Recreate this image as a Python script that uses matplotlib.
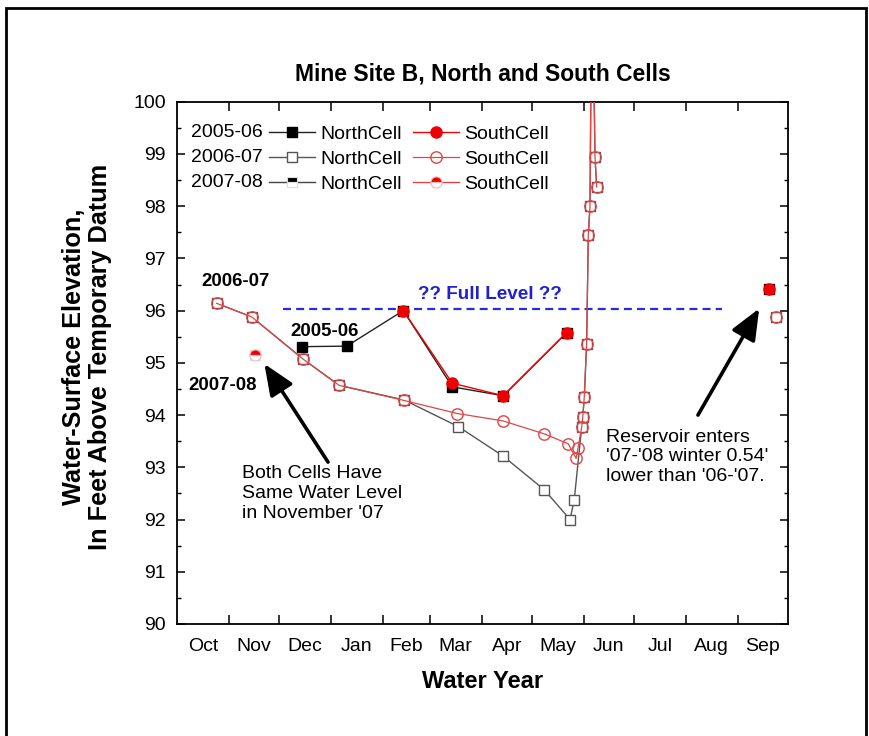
import numpy as np
import matplotlib
matplotlib.use('Agg')
import matplotlib.pyplot as plt
from matplotlib.patches import Rectangle
from matplotlib.ticker import MultipleLocator

plt.rcParams['font.family'] = ['Liberation Sans', 'DejaVu Sans']

nan = np.nan

# ---- data (x = day of water year, starting Oct 1) ----
month_labels = ['Oct', 'Nov', 'Dec', 'Jan', 'Feb', 'Mar', 'Apr', 'May',
                'Jun', 'Jul', 'Aug', 'Sep']
month_lengths = [31, 30, 31, 31, 28, 31, 30, 31, 30, 31, 31, 30]

n05_day = [74.9, 101.4, 135.2, 164.5, 194.9, 232.8, nan, 353.8]
n05_val = [95.31, 95.32, 96.00, 94.54, 94.37, 95.58, nan, 96.41]
s05_day = [135.2, 164.5, 194.9, 232.8, nan, 353.8]
s05_val = [96.00, 94.61, 94.37, 95.58, nan, 96.41]

n06_day = [23.7, 44.6, 75.4, 96.8, 135.6, 168.0, 194.6, 219.4, 234.8, 237.3,
           241.8, 242.4, 243.3, 244.7, 245.7, 246.7, 247.9, 249.7, 250.7, nan, 357.8]
n06_val = [96.14, 95.88, 95.07, 94.57, 94.29, 93.78, 93.22, 92.57, 92.00, 92.38,
           93.78, 93.97, 94.35, 95.37, 97.45, 98.00, 103.0, 98.94, 98.37, nan, 95.88]
s06_day = [23.7, 44.6, 75.4, 96.8, 135.6, 167.4, 194.6, 219.4, 233.7, 238.4, 239.5,
           241.8, 242.4, 243.3, 244.7, 245.7, 246.7, 247.9, 249.7, 250.7, nan, 357.8]
s06_val = [96.14, 95.88, 95.07, 94.57, 94.28, 94.03, 93.89, 93.64, 93.45, 93.17, 93.36,
           93.78, 93.97, 94.35, 95.37, 97.45, 98.00, 103.0, 98.94, 98.37, nan, 95.88]

n07_day = [46.6]
n07_val = [95.15]
s07_day = [46.6]
s07_val = [95.15]

full_level = 96.03
full_level_days = [63.3, 325.6]

years = ['2005-06', '2006-07', '2007-08']

# ---- figure ----
fig = plt.figure(figsize=(8.69, 7.36), dpi=100)
ax = fig.add_axes([0.2037, 0.1522, 0.7031, 0.7096])

dark = '#555555'
red = '#ee0000'
red2 = '#e04545'

hn05, = ax.plot(n05_day, n05_val, '-', color='#222222', lw=1.0, marker='s',
                ms=7, mfc='black', mec='black', zorder=3)
hn06, = ax.plot(n06_day, n06_val, '-', color=dark, lw=1.0, marker='s',
                ms=7.2, mfc='white', mec=dark, mew=1.0, zorder=3)
hn07, = ax.plot(n07_day, n07_val, '-', color='#444444', lw=1.0, marker='s',
                ms=7.2, mfc='black', mfcalt='white', fillstyle='top',
                mec='#dddddd', mew=0.8, zorder=3)
hs05, = ax.plot(s05_day, s05_val, '-', color=red, lw=1.0, marker='o',
                ms=8, mfc=red, mec=red, zorder=4)
hs06, = ax.plot(s06_day, s06_val, '-', color=red2, lw=0.9, marker='o',
                ms=8.2, mfc='none', mec=red2, mew=1.0, zorder=4)
hs07, = ax.plot(s07_day, s07_val, '-', color=red2, lw=1.0, marker='o',
                ms=8, mfc=red, mfcalt='white', fillstyle='top',
                mec='#f2b8b8', mew=0.8, zorder=4)

ax.plot(full_level_days, [full_level, full_level], color='#2b2bdd', lw=1.6,
        ls=(0, (3.6, 2.3)), zorder=2)

# axes limits / ticks
bounds = np.concatenate([[0], np.cumsum(month_lengths)])
centers = (bounds[:-1] + bounds[1:]) / 2
ax.set_xlim(0, 365)
ax.set_ylim(90, 100)
ax.set_xticks(bounds[1:-1])
ax.set_xticklabels([])
ax.set_xticks(centers, minor=True)
ax.set_xticklabels(month_labels, minor=True)
ax.tick_params(axis='x', which='major', direction='in', length=6.5, width=1.1,
               top=True, bottom=True)
ax.tick_params(axis='x', which='minor', length=0, pad=10, labelsize=14)
ax.set_yticks(np.arange(90, 101, 1))
ax.yaxis.set_minor_locator(MultipleLocator(0.5))
ax.tick_params(axis='y', which='major', direction='in', length=6, width=1.1,
               left=True, right=True, labelsize=14, pad=8)
ax.tick_params(axis='y', which='minor', direction='in', length=3, width=1.0,
               left=True, right=True)
for s in ax.spines.values():
    s.set_linewidth(1.3)

ax.set_title('Mine Site B, North and South Cells', fontsize=16.5,
             fontweight='bold', pad=15)
ax.set_xlabel('Water Year', fontsize=17, fontweight='bold', labelpad=11)
ax.set_ylabel('Water-Surface Elevation,\nIn Feet Above Temporary Datum',
              fontsize=18.2, fontweight='bold', linespacing=1.1)
ax.yaxis.set_label_coords(-0.106, 0.512)

# legend
leg = ax.legend(handles=[hn05, hn06, hn07, hs05, hs06, hs07],
                labels=['NorthCell'] * 3 + ['SouthCell'] * 3,
                ncol=2, loc='upper left', bbox_to_anchor=(0.1506, 0.955),
                frameon=False, borderpad=0, borderaxespad=0,
                handlelength=2.37, handletextpad=0.26, columnspacing=0.6,
                labelspacing=0.38, fontsize=14, numpoints=1)
row_y = [0.942, 0.894, 0.846]
for yr, yy in zip(years, row_y):
    ax.text(0.1408, yy, yr, transform=ax.transAxes, ha='right', va='center',
            fontsize=14)

# annotations
ax.text(14.5, 96.55, '2006-07', fontsize=13.4, fontweight='bold',
        ha='left', va='center')
ax.text(67.5, 95.6, '2005-06', fontsize=13.4, fontweight='bold',
        ha='left', va='center')
ax.text(6.5, 94.56, '2007-08', fontsize=13.4, fontweight='bold',
        ha='left', va='center')
ax.text(143.9, 96.3, '?? Full Level ??', fontsize=13.6, fontweight='bold',
        color='#2020cc', ha='left', va='center')
ax.text(38.6, 92.5, "Both Cells Have\nSame Water Level\nin November '07",
        fontsize=14, ha='left', va='center', linespacing=1.2)
ax.text(256.5, 93.2, "Reservoir enters\n'07-'08 winter 0.54'\nlower than '06-'07.",
        fontsize=14, ha='left', va='center', linespacing=1.2)

arrow_kw = dict(arrowstyle='-|>,head_length=0.95,head_width=0.4', lw=2.6,
                color='black', mutation_scale=20, shrinkA=0, shrinkB=0)
ax.annotate('', xy=(52.2, 94.98), xytext=(90.2, 93.10), arrowprops=arrow_kw)
ax.annotate('', xy=(347.8, 96.04), xytext=(311.2, 94.0), arrowprops=arrow_kw)

# outer frame (open at the bottom)
fig.patches.append(Rectangle((5.5 / 869, -0.05), (866 - 5.5) / 869,
                             1 - 8 / 736 + 0.05, transform=fig.transFigure,
                             fill=False, lw=2.0, ec='black'))

fig.savefig('out.png', dpi=100)
